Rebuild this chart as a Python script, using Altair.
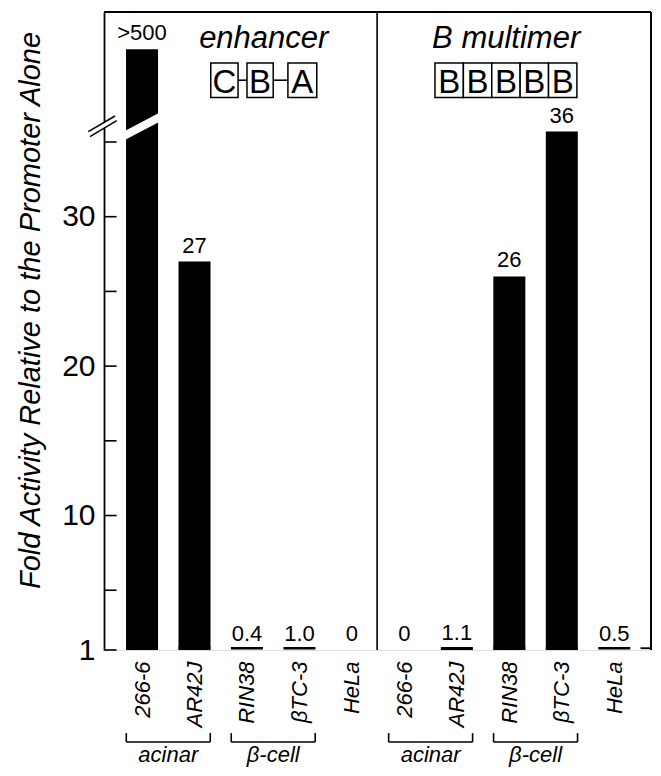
import altair as alt
import pandas as pd

# ---------------- data ----------------
cells = ["266-6", "AR42J", "RIN38", "βTC-3", "HeLa",
         "266-6", "AR42J", "RIN38", "βTC-3", "HeLa"]
constructs = ["enhancer"] * 5 + ["B multimer"] * 5
# bar heights (266-6 with enhancer is >500, drawn broken)
heights = [41.2, 27, 0.4, 1.0, 0, 0, 1.1, 26, 35.7, 0.5]
value_labels = [">500", "27", "0.4", "1.0", "0", "0", "1.1", "26", "36", "0.5"]
group_names = ["acinar", "β-cell", "acinar", "β-cell"]
group_first = [0, 2, 5, 7]
y_tick_values = [1, 5, 10, 15, 20, 25, 30, 35]
y_label_values = [1, 10, 20, 30]
panel_titles = ["enhancer", "B multimer"]
enhancer_boxes = ["C", "B", "A"]
multimer_boxes = ["B", "B", "B", "B", "B"]
y_title = "Fold Activity Relative to the Promoter Alone"

# ---------------- layout (positions in data units) ----------------
X_MIN, X_MAX = -0.725, 9.7
Y_MIN, Y_MAX = 1, 43.7
HALF = 0.305
BASE_LINE_Y = 1.12
DIVIDER_X = 4.48
TICK_LEN = 0.24
BR_Y, BR_TIP, GL_Y = -5.16, -4.56, -6.5
TITLE_Y = 41.29
title_x = [2.32, 6.94]
BOX_Y0, BOX_Y1, LETTER_Y = 37.98, 40.29, 38.28
enh_box_x = [(1.31, 1.83), (2.00, 2.50), (2.78, 3.33)]
mul_box_x0, mul_box_w = 5.583, 0.541

FONT = "Liberation Sans"
xs = alt.Scale(domain=[X_MIN, X_MAX], nice=False, zero=False)
ys = alt.Scale(domain=[Y_MIN, Y_MAX], nice=False, zero=False)

bars = pd.DataFrame({
    "pos": list(range(len(cells))),
    "cell": cells,
    "construct": constructs,
    "h": heights,
    "label": value_labels,
})
bars["x0"] = bars["pos"] - HALF
bars["x1"] = bars["pos"] + HALF
bars["base"] = Y_MIN
bars["top"] = bars["h"].clip(lower=Y_MIN)

label_expr = "[" + ",".join("'" + c + "'" for c in cells) + "][datum.value]"

x_axis = alt.Axis(values=list(range(len(cells))), labelExpr=label_expr,
                  labelAngle=270, labelFontSize=22, labelFontStyle="italic",
                  labelPadding=11, domain=False, ticks=False, grid=False,
                  title=None, labelColor="black", labelFont=FONT)
y_axis = alt.Axis(values=y_label_values, labelFontSize=30, labelPadding=9,
                  ticks=False, grid=False, domainColor="black", domainWidth=1.8,
                  title=y_title, titleFontSize=29, titleFontStyle="italic",
                  titleFontWeight="normal", titleColor="black", titleFont=FONT,
                  titleX=-65, titleY=298, titleBaseline="alphabetic",
                  labelColor="black", labelFont=FONT)


def X(field):
    return alt.X(field, scale=xs, axis=x_axis)


def Y(field):
    return alt.Y(field, scale=ys, axis=y_axis)


bar_layer = alt.Chart(bars).mark_rect(color="black").encode(
    x=X("x0:Q"), x2="x1:Q", y=Y("base:Q"), y2="top:Q",
)

base_lines = alt.Chart(bars[bars["h"] > 0].assign(yb=BASE_LINE_Y)).mark_rule(
    color="black", strokeWidth=2.5).encode(
    x=X("x0:Q"), x2="x1:Q", y=Y("yb:Q"),
)

value_text = alt.Chart(bars).mark_text(
    baseline="alphabetic", dy=-9, fontSize=22, color="black", font=FONT).encode(
    x=X("pos:Q"), y=Y("top:Q"), text="label:N",
)

# ---------------- line segments: frame, ticks, brackets, connectors, breaks ----------------
segs = []


def seg(x, x2, y, y2, w=1.6, c="black"):
    segs.append({"x": x, "x2": x2, "y": y, "y2": y2, "w": w, "c": c})


seg(X_MIN, X_MAX, Y_MAX, Y_MAX, 2.0)            # top frame
seg(X_MAX, X_MAX, Y_MIN, Y_MAX, 2.0)            # right frame
seg(X_MAX - 0.2, X_MAX, BASE_LINE_Y, BASE_LINE_Y, 1.8)  # right foot
seg(DIVIDER_X, DIVIDER_X, Y_MIN, Y_MAX, 1.6)   # panel divider
for t in y_tick_values:
    seg(X_MIN, X_MIN + TICK_LEN, t, t, 1.6)
for first in group_first:
    a, b = first - 0.3, first + 1.3
    seg(a, b, BR_Y, BR_Y, 1.6)
    seg(a, a, BR_Y, BR_TIP, 1.6)
    seg(b, b, BR_Y, BR_TIP, 1.6)
# connectors C-B-A
for (l0, r0), (l1, r1) in zip(enh_box_x[:-1], enh_box_x[1:]):
    seg(r0, l1, (BOX_Y0 + BOX_Y1) / 2, (BOX_Y0 + BOX_Y1) / 2, 1.6)
# break in the first bar and on the axis
seg(-0.42, 0.40, 35.27, 36.78, 8, "white")
seg(-1.01, -0.49, 35.52, 36.58, 3.5, "white")
seg(-1.024, -0.515, 35.69, 36.74, 1.5)
seg(-0.992, -0.483, 35.36, 36.43, 1.5)

seg_df = pd.DataFrame(segs)
seg_layer = alt.Chart(seg_df).mark_rule(strokeCap="butt").encode(
    x=X("x:Q"), x2="x2:Q", y=Y("y:Q"), y2="y2:Q",
    strokeWidth=alt.StrokeWidth("w:Q", scale=None),
    color=alt.Color("c:N", scale=None),
)

# ---------------- group labels ----------------
grp_df = pd.DataFrame({
    "name": group_names,
    "x": [f + 0.5 for f in group_first],
    "y": [GL_Y] * len(group_names),
})
grp_layer = alt.Chart(grp_df).mark_text(
    baseline="alphabetic", fontSize=22, fontStyle="italic", color="black", font=FONT).encode(
    x=X("x:Q"), y=Y("y:Q"), text="name:N",
)

# ---------------- panel titles ----------------
pt_df = pd.DataFrame({"t": panel_titles, "x": title_x, "y": [TITLE_Y] * 2})
pt_layer = alt.Chart(pt_df).mark_text(
    baseline="alphabetic", fontSize=31, fontStyle="italic", color="black", font=FONT).encode(
    x=X("x:Q"), y=Y("y:Q"), text="t:N",
)

# ---------------- boxes ----------------
box_rows = []
for letter, (l, r) in zip(enhancer_boxes, enh_box_x):
    box_rows.append({"letter": letter, "x": l, "x2": r})
for i, letter in enumerate(multimer_boxes):
    box_rows.append({"letter": letter, "x": mul_box_x0 + i * mul_box_w,
                     "x2": mul_box_x0 + (i + 1) * mul_box_w})
box_df = pd.DataFrame(box_rows)
box_df["y"] = BOX_Y0
box_df["y2"] = BOX_Y1
box_df["xc"] = (box_df["x"] + box_df["x2"]) / 2
box_df["ly"] = LETTER_Y

box_layer = alt.Chart(box_df).mark_rect(fill="white", stroke="black", strokeWidth=1.5).encode(
    x=X("x:Q"), x2="x2:Q", y=Y("y:Q"), y2="y2:Q",
)
letter_layer = alt.Chart(box_df).mark_text(
    baseline="alphabetic", fontSize=33, color="black", font=FONT).encode(
    x=X("xc:Q"), y=Y("ly:Q"), text="letter:N",
)

chart = alt.layer(
    bar_layer, base_lines, seg_layer, value_text, grp_layer,
    pt_layer, box_layer, letter_layer,
).properties(
    width=547, height=638,
    autosize=alt.AutoSizeParams(type="none"),
    padding={"left": 96, "top": 4, "right": 2, "bottom": 118},
    background="white",
).configure_view(stroke=None).configure(font=FONT)

chart.save("out.html", embed_options={"renderer": "svg", "actions": False})
